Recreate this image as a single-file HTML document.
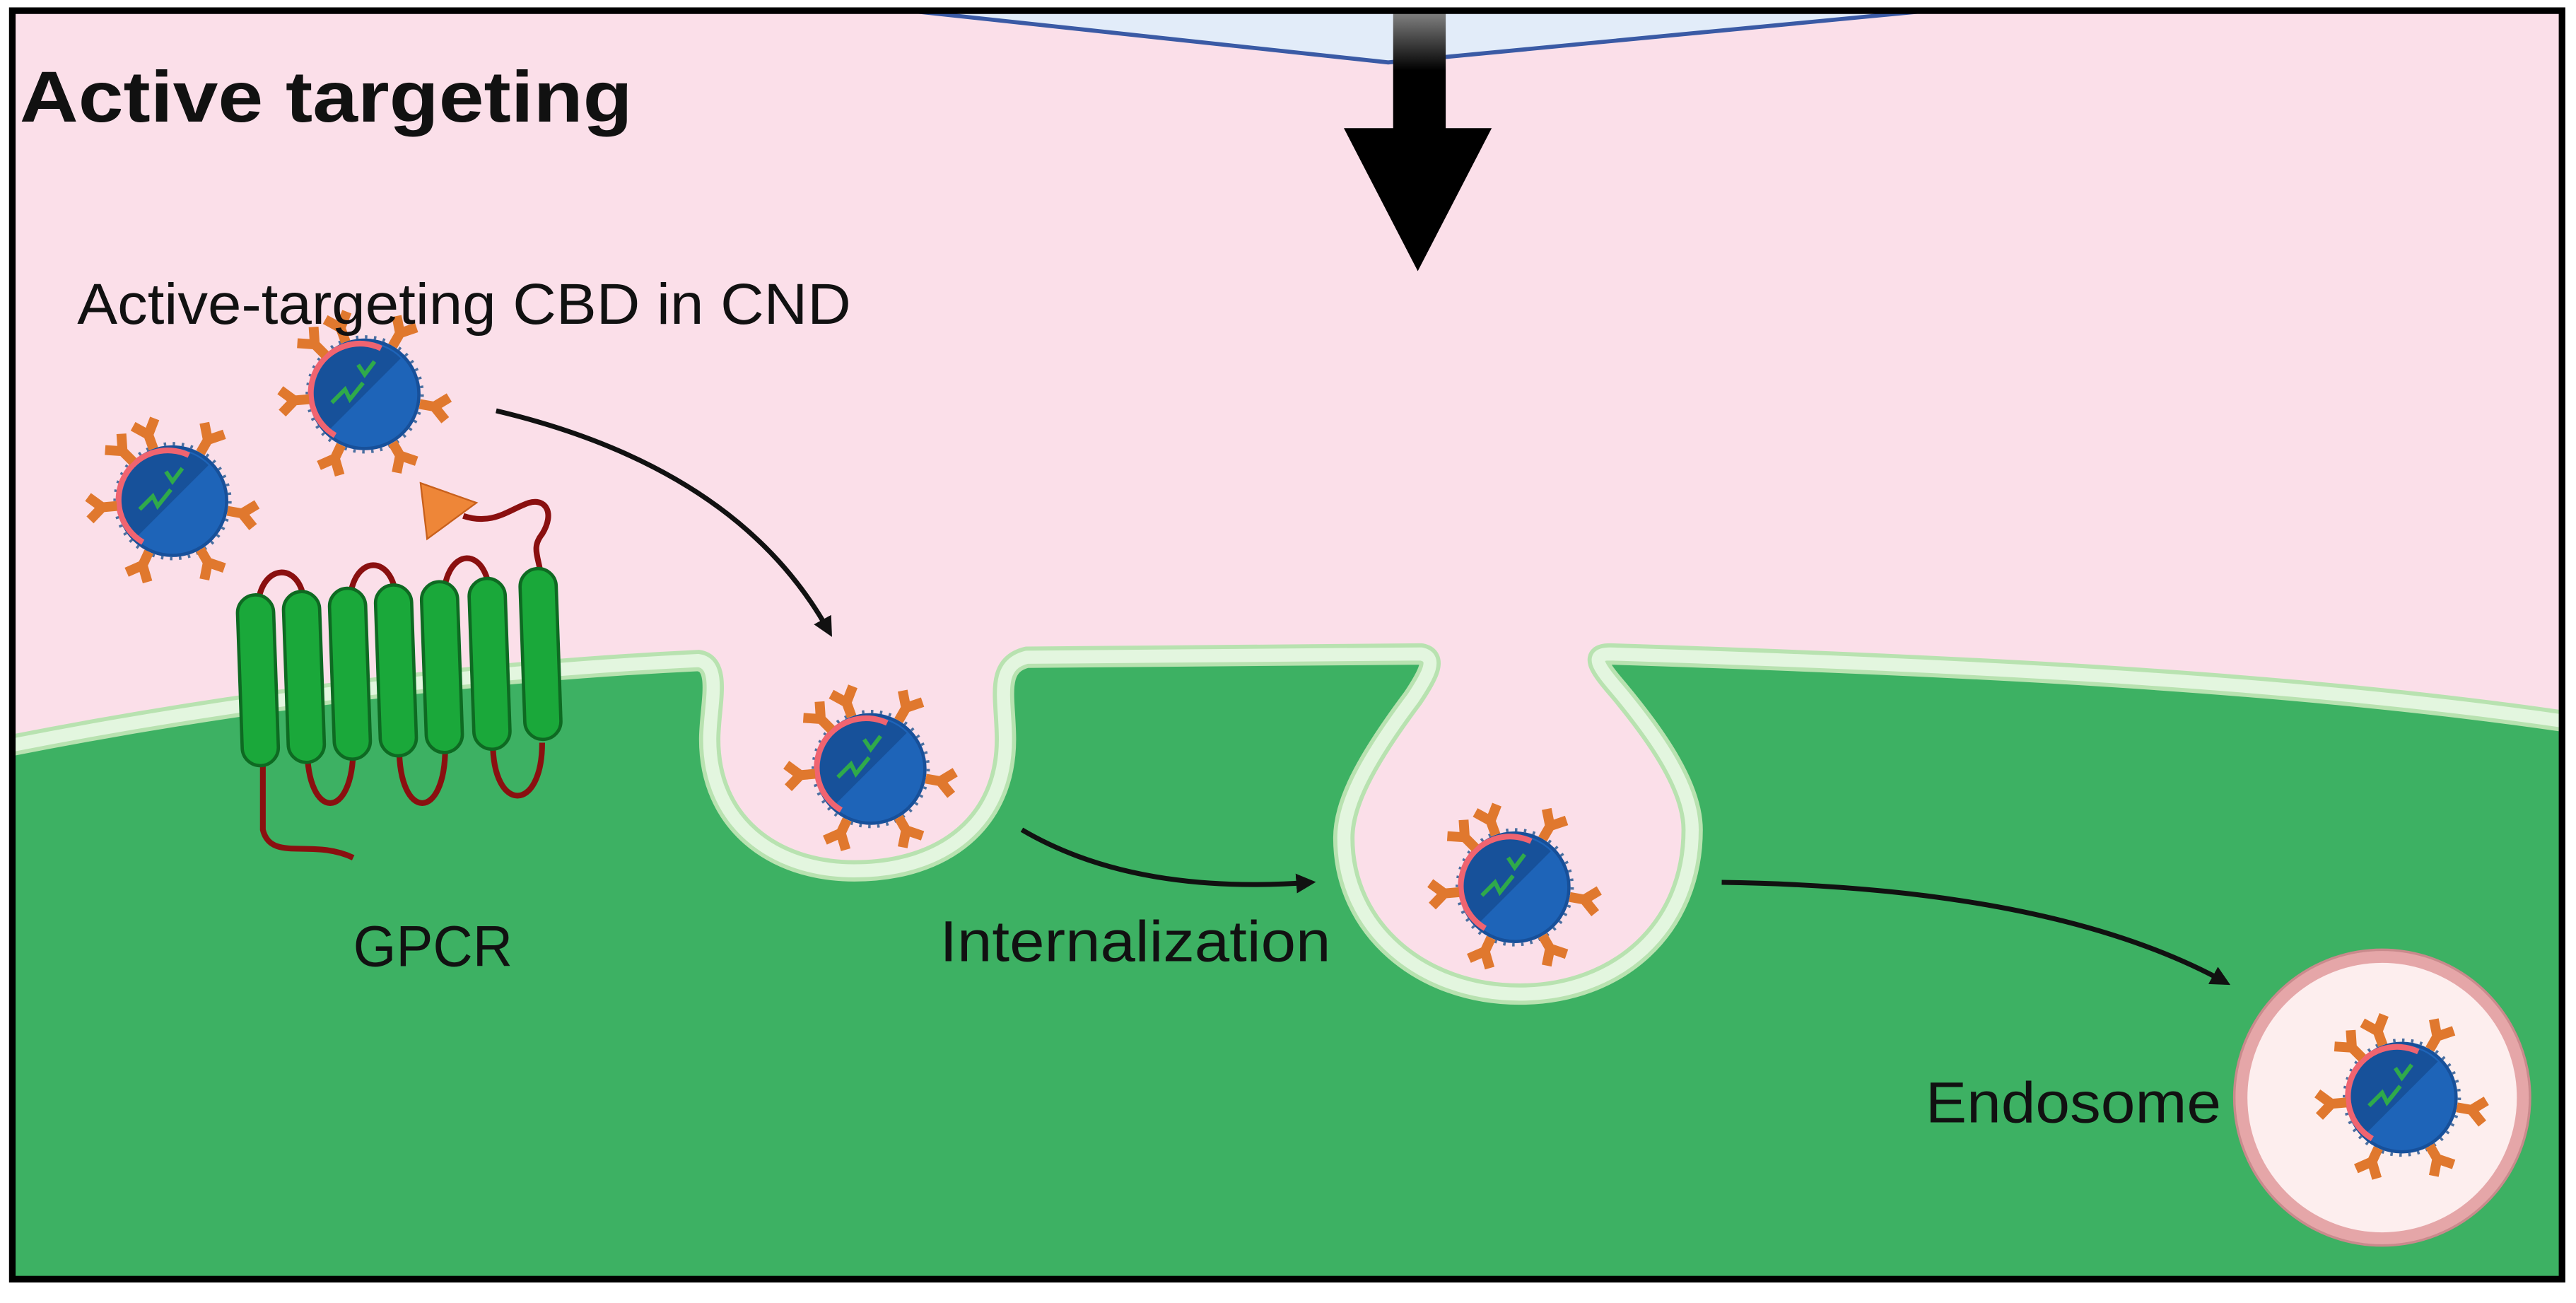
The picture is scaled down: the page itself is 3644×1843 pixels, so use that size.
<!DOCTYPE html>
<html><head><meta charset="utf-8"><style>
html,body{margin:0;padding:0;background:#fff;}
svg{display:block;}
text{font-family:"Liberation Sans",sans-serif;fill:#111;}
</style></head><body>
<svg width="3644" height="1843" viewBox="0 0 1568 793" preserveAspectRatio="none" xmlns="http://www.w3.org/2000/svg">
<defs>
<linearGradient id="sh" x1="0" y1="0" x2="0" y2="1">
<stop offset="0" stop-color="#888"/><stop offset="0.5" stop-color="#000"/><stop offset="1" stop-color="#000"/>
</linearGradient>
<clipPath id="frame"><rect x="7" y="6" width="1553" height="773"/></clipPath>
<clipPath id="half"><polygon points="-40,-40 40,-40 -40,40"/></clipPath>
<g id="ab"><path d="M0,2 L0,-7 M0,-7 L-7,-15 M0,-7 L7,-15" stroke="#e0782e" stroke-width="6" fill="none"/></g>
<g id="np">
<circle r="35" fill="none" stroke="#4a6fa0" stroke-width="2" stroke-dasharray="1.5 4"/>
<circle r="33" fill="#1e64b8" stroke="#17509a" stroke-width="2"/>
<g clip-path="url(#half)"><circle r="31" fill="#17519a"/>
<path d="M-20,5 l8,-8 l3,6 l8,-10 M-14,18 l6,-8 l4,4 l6,-12 M-4,-18 l4,6 l6,-8" stroke="#2faa4a" stroke-width="2.5" fill="none"/></g>
<path d="M10,-28 A30,30 0 0 0 -18,25" stroke="#f06470" stroke-width="3.5" fill="none"/>
<use href="#ab" transform="rotate(-20) translate(0,-36)"/>
<use href="#ab" transform="rotate(30) translate(0,-36)"/>
<use href="#ab" transform="rotate(100) translate(0,-36)"/>
<use href="#ab" transform="rotate(150) translate(0,-36)"/>
<use href="#ab" transform="rotate(205) translate(0,-36)"/>
<use href="#ab" transform="rotate(265) translate(0,-36)"/>
<use href="#ab" transform="rotate(315) translate(0,-36)"/>
</g>
<marker id="ah" markerWidth="12" markerHeight="12" refX="9" refY="6" orient="auto" markerUnits="userSpaceOnUse">
<path d="M0,0 L12,6 L0,12 Z" fill="#111"/>
</marker>
</defs>

<rect x="0" y="0" width="1568" height="793" fill="#fff"/>
<g clip-path="url(#frame)">
<rect x="7" y="6" width="1553" height="773" fill="#fbdfe9"/>

<polygon points="530,4 845,38 1200,4" fill="#e2ecf9" stroke="#3a5aa5" stroke-width="2.5"/>

<path d="M0,455 C150,425 300,408 425,402 C440,404 432,430 432,450 C432,500 470,530 520,530 C575,530 612,500 612,450 C612,425 605,405 625,400 L865,398 C875,400 870,410 860,425 C830,465 818,490 818,510 C818,565 865,605 925,605 C985,605 1030,565 1030,505 C1030,480 1010,450 985,420 C972,405 968,398 980,398 C1200,405 1400,415 1568,440 L1568,793 L0,793 Z" fill="#3db163"/>
<path d="M0,455 C150,425 300,408 425,402 C440,404 432,430 432,450 C432,500 470,530 520,530 C575,530 612,500 612,450 C612,425 605,405 625,400 L865,398 C875,400 870,410 860,425 C830,465 818,490 818,510 C818,565 865,605 925,605 C985,605 1030,565 1030,505 C1030,480 1010,450 985,420 C972,405 968,398 980,398 C1200,405 1400,415 1568,440" fill="none" stroke="#b8e2b0" stroke-width="13" stroke-linejoin="round"/>
<path d="M0,455 C150,425 300,408 425,402 C440,404 432,430 432,450 C432,500 470,530 520,530 C575,530 612,500 612,450 C612,425 605,405 625,400 L865,398 C875,400 870,410 860,425 C830,465 818,490 818,510 C818,565 865,605 925,605 C985,605 1030,565 1030,505 C1030,480 1010,450 985,420 C972,405 968,398 980,398 C1200,405 1400,415 1568,440" fill="none" stroke="#e3f6df" stroke-width="8" stroke-linejoin="round"/>

<rect x="848" y="6" width="32" height="74" fill="url(#sh)"/>
<polygon points="818,78 908,78 863,165" fill="#000"/>

<!-- GPCR -->
<g fill="none" stroke="#8a1010" stroke-width="3.5">
<path d="M157,375 C155,340 187,340 185,372"/>
<path d="M213,372 C211,335 243,335 241,370"/>
<path d="M270,370 C268,330 300,330 298,368"/>
<path d="M187,455 C187,500 215,500 215,455"/>
<path d="M243,455 C243,500 271,500 271,455"/>
<path d="M300,452 C300,495 330,495 330,452"/>
<path d="M330,360 C330,340 322,335 330,325 C338,312 332,303 322,306 C310,310 300,320 282,314"/>
<path d="M160,460 L160,505 C165,525 190,510 215,522"/>
</g>
<polygon points="256,294 290,306 260,328" fill="#ee8638" stroke="#c8601c" stroke-width="1"/>
<g fill="#1aa83a" stroke="#0e6a22" stroke-width="2">
<rect x="146" y="362" width="22" height="104" rx="11" transform="rotate(-2 157 414)"/>
<rect x="174" y="360" width="22" height="104" rx="11" transform="rotate(-2 185 412)"/>
<rect x="202" y="358" width="22" height="104" rx="11" transform="rotate(-2 213 410)"/>
<rect x="230" y="356" width="22" height="104" rx="11" transform="rotate(-2 241 408)"/>
<rect x="258" y="354" width="22" height="104" rx="11" transform="rotate(-2 269 406)"/>
<rect x="287" y="352" width="22" height="104" rx="11" transform="rotate(-2 298 404)"/>
<rect x="318" y="346" width="22" height="104" rx="11" transform="rotate(-2 329 398)"/>
</g>

<circle cx="1450" cy="668" r="86" fill="#fdeeee" stroke="#e5a6a8" stroke-width="8"/>
<circle cx="1450" cy="668" r="90" fill="none" stroke="#c98a8c" stroke-width="1.5"/>

<use href="#np" transform="translate(105,305)"/>
<use href="#np" transform="translate(222,240)"/>
<use href="#np" transform="translate(530,468)"/>
<use href="#np" transform="translate(922,540)"/>
<use href="#np" transform="translate(1462,668)"/>

<g fill="none" stroke="#111" stroke-width="3" marker-end="url(#ah)">
<path d="M302,250 Q450,285 505,385"/>
<path d="M622,505 Q690,545 798,537"/>
<path d="M1048,537 Q1250,540 1355,598"/>
</g>

<text x="12" y="74" font-size="44" font-weight="bold" textLength="373" lengthAdjust="spacingAndGlyphs">Active targeting</text>
<text x="47" y="197" font-size="35" textLength="471" lengthAdjust="spacingAndGlyphs">Active-targeting CBD in CND</text>
<text x="215" y="588" font-size="35" textLength="97" lengthAdjust="spacingAndGlyphs">GPCR</text>
<text x="572" y="585" font-size="35" textLength="238" lengthAdjust="spacingAndGlyphs">Internalization</text>
<text x="1172" y="683" font-size="35" textLength="180" lengthAdjust="spacingAndGlyphs">Endosome</text>
</g>
<rect x="7.5" y="6.5" width="1552" height="772" fill="none" stroke="#000" stroke-width="4"/>
</svg>
</body></html>
